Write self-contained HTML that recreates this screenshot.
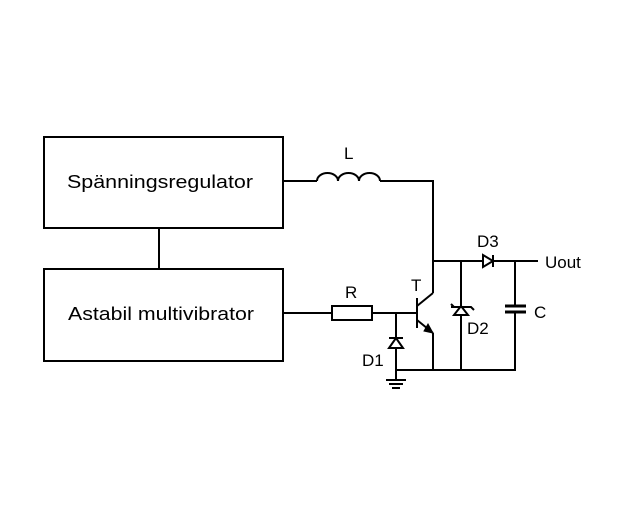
<!DOCTYPE html>
<html><head><style>html,body{margin:0;padding:0;background:#fff}svg{display:block}</style></head>
<body>
<svg width="640" height="512" viewBox="0 0 640 512" xmlns="http://www.w3.org/2000/svg" font-family="Liberation Sans, Arial, sans-serif" fill="none" stroke="#000" stroke-width="2">
<rect x="44" y="137" width="239" height="91"/>
<rect x="44" y="269" width="239" height="92"/>
<line x1="159" y1="228" x2="159" y2="269"/>
<g stroke="none" fill="#000" font-size="18">
<text x="67" y="188" textLength="186" lengthAdjust="spacingAndGlyphs">Spänningsregulator</text>
<text x="68" y="320" textLength="186" lengthAdjust="spacingAndGlyphs">Astabil multivibrator</text>
<text x="344" y="159" font-size="17">L</text>
<text x="345" y="298" font-size="17">R</text>
<text x="411" y="291" font-size="17">T</text>
<text x="362" y="366" font-size="17">D1</text>
<text x="467" y="334" font-size="17">D2</text>
<text x="477" y="247" font-size="17">D3</text>
<text x="534" y="318" font-size="17">C</text>
<text x="545" y="268" font-size="17">Uout</text>
</g>
<!-- L -->
<path d="M283 181 H317 M380 181 H433 V293"/>
<path d="M317 181 a10.5 8 0 0 1 21 0 a10.5 8 0 0 1 21 0 a10.5 8 0 0 1 21 0"/>
<!-- R path -->
<path d="M283 313 H332 M372 313 H417"/>
<rect x="332" y="306" width="40" height="14"/>
<!-- transistor -->
<line x1="417" y1="298" x2="417" y2="328"/>
<line x1="417" y1="306" x2="433" y2="293"/>
<line x1="417" y1="320" x2="433" y2="333"/>
<path d="M433 333 V370"/>
<path d="M428 324 L433 333 L424 331 Z" fill="#000" stroke-width="1"/>
<!-- D1 -->
<path d="M396 313 V370"/>
<path d="M389 348 L403 348 L396 338 Z" fill="#fff"/>
<line x1="389" y1="338" x2="403" y2="338"/>
<!-- ground -->
<path d="M396 370 V380 M386 380 H406 M389 384 H403 M392 388 H400"/>
<!-- bottom -->
<path d="M396 370 H516"/>
<!-- top rail -->
<path d="M433 261 H483 M493 261 H538"/>
<path d="M483 255 L483 267 L493 261 Z" fill="#fff"/>
<line x1="493" y1="255" x2="493" y2="267"/>
<!-- D2 -->
<path d="M461 261 V370"/>
<path d="M454 315 L468 315 L461 306 Z" fill="#fff"/>
<path d="M451 307 H471 l3 3 M454 307 l-3 -3"/>
<!-- C -->
<path d="M515 261 V306 M515 312 V370"/>
<path d="M505 306 H526 M505 312 H526" stroke-width="3"/>
</svg>
</body></html>
